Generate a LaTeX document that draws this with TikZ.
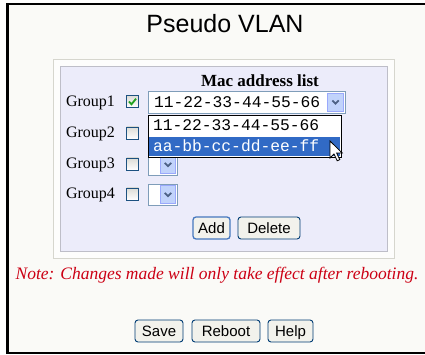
\documentclass[tikz,border=0pt]{standalone}
\usepackage{fontspec}
\setmainfont{Liberation Serif}
\newfontfamily\arialf{Liberation Sans}
\newfontfamily\courf{Liberation Mono}
\definecolor{pagebg}{RGB}{250,250,247}
\definecolor{panelborder}{RGB}{214,214,206}
\definecolor{lavender}{RGB}{236,236,250}
\definecolor{lavborder}{RGB}{190,190,200}
\definecolor{btnborder}{RGB}{0,60,116}
\definecolor{btnfill}{RGB}{242,242,236}
\definecolor{focusblue}{RGB}{70,120,190}
\definecolor{chkborder}{RGB}{28,81,128}
\definecolor{chkgrey}{RGB}{220,220,214}
\definecolor{chkgreen}{RGB}{33,161,33}
\definecolor{comboborder}{RGB}{127,157,185}
\definecolor{arrowfill}{RGB}{193,211,251}
\definecolor{chevcol}{RGB}{77,97,133}
\definecolor{selblue}{RGB}{49,106,197}
\definecolor{notered}{RGB}{204,0,20}
\begin{document}
\begin{tikzpicture}[x=1pt,y=-1pt,
  every node/.style={inner sep=0pt, outer sep=0pt},
  xpbtn/.style={draw=btnborder, fill=btnfill, rounded corners=3pt, line width=0.9pt,
    font=\arialf\fontsize{15}{15}\selectfont, text height=10.7pt, text depth=0pt, minimum height=22pt},
  chkbox/.style={draw=chkborder, line width=0.8pt, top color=chkgrey, bottom color=white, minimum size=12pt},
  grouplabel/.style={anchor=base west, font=\fontsize{16}{16}\selectfont},
  macfont/.style={anchor=base west, font=\courf\fontsize{16.3}{16.3}\selectfont},
  combobox/.style={draw=comboborder, fill=white, line width=0.8pt},
  arrowbtn/.style={fill=arrowfill, draw=arrowfill!80!blue, line width=0.5pt},
  chev/.style={draw=chevcol, line width=1.8pt},
]
\useasboundingbox (0,0) rectangle (425,355);
\fill[white] (0,0) rectangle (425,355);
\fill[pagebg] (8,4) rectangle (425,353);
\draw[line width=2.5pt] (425,3.8) -- (7.7,3.8) -- (7.7,353) -- (425,353);

% title
\node[anchor=base, font=\arialf\fontsize{25}{30}\selectfont] (title) at (225,32.5) {Pseudo VLAN};

% panels
\draw[panelborder, fill=white!60!pagebg, line width=1pt] (53,60) rectangle (394,258);
\draw[lavborder, fill=lavender, line width=1pt] (60,67) rectangle (387,251);

\node[anchor=base, font=\bfseries\fontsize{17}{17}\selectfont] (maclist) at (260,87) {Mac address list};

% group labels
\node[grouplabel] (g1) at (66,106.5) {Group1};
\node[grouplabel] (g2) at (66,138) {Group2};
\node[grouplabel] (g3) at (66,169) {Group3};
\node[grouplabel] (g4) at (66,199) {Group4};

% checkboxes
\node[chkbox] (c1) at (132.5,101.5) {};
\node[chkbox] (c2) at (132.5,133) {};
\node[chkbox] (c3) at (132.5,164) {};
\node[chkbox] (c4) at (132.5,194) {};
\draw[chkgreen, line width=1.8pt] ([xshift=-3.5pt,yshift=0pt]c1.center) -- ([xshift=-1pt,yshift=-2.8pt]c1.center) -- ([xshift=3.5pt,yshift=2.8pt]c1.center);

% combobox 1
\draw[combobox] (148,91) rectangle (345,113);
\node[macfont] (cb1t) at (154,107.5) {11-22-33-44-55-66};
\node[arrowbtn, minimum width=16pt, minimum height=18.5pt, anchor=north east] (cb1a) at (343.5,92.8) {};
\draw[chev] ([xshift=-3.2pt,yshift=1.6pt]cb1a.center) -- ([yshift=-1.6pt]cb1a.center) -- ([xshift=3.2pt,yshift=1.6pt]cb1a.center);

% combobox 3 and 4
\draw[combobox] (148,154) rectangle (177,175);
\node[arrowbtn, minimum width=15pt, minimum height=18pt, anchor=north east] (cb3a) at (175.5,155.5) {};
\draw[chev] ([xshift=-3.2pt,yshift=1.6pt]cb3a.center) -- ([yshift=-1.6pt]cb3a.center) -- ([xshift=3.2pt,yshift=1.6pt]cb3a.center);
\draw[combobox] (148,184) rectangle (177,205);
\node[arrowbtn, minimum width=15pt, minimum height=18pt, anchor=north east] (cb4a) at (175.5,185.5) {};
\draw[chev] ([xshift=-3.2pt,yshift=1.6pt]cb4a.center) -- ([yshift=-1.6pt]cb4a.center) -- ([xshift=3.2pt,yshift=1.6pt]cb4a.center);

% dropdown list
\fill[white] (148,115) rectangle (341,157);
\fill[selblue] (149,137) rectangle (340,156);
\draw[black, line width=0.9pt] (148,115) rectangle (341,157);
\node[macfont] (li1) at (153,131) {11-22-33-44-55-66};
\node[macfont, text=white] (li2) at (153,151.5) {aa-bb-cc-dd-ee-ff};

% mouse cursor
\draw[fill=white, draw=black, line width=0.8pt, line join=miter]
  (330,141) -- ++(0,17) -- ++(4,-4) -- ++(3.2,6.8) -- ++(2.6,-1.2) -- ++(-3.2,-6.6) -- ++(5.6,0) -- cycle;

% add / delete
\node[xpbtn, draw=focusblue, line width=1.3pt, minimum width=37pt] (add) at (211.5,228) {Add};
\node[xpbtn, minimum width=62pt] (del) at (269,228) {Delete};

% note
\node[anchor=base, text=notered, font=\itshape\fontsize{17.5}{17.5}\selectfont] (note) at (217,279)
  {Note: Changes made will only take effect after rebooting.};

% bottom buttons
\node[xpbtn, minimum width=48pt] (save) at (159,331) {Save};
\node[xpbtn, minimum width=68pt] (reboot) at (226,331) {Reboot};
\node[xpbtn, minimum width=45pt] (help) at (290.5,331) {Help};
\end{tikzpicture}
\end{document}
